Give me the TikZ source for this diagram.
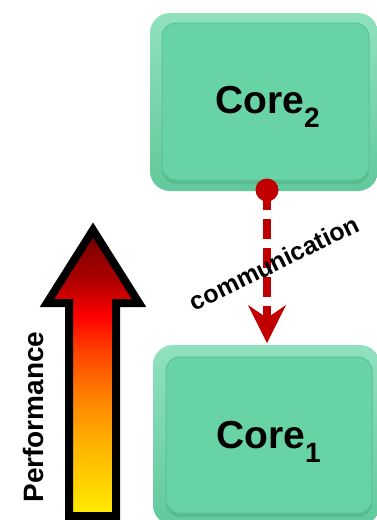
\documentclass[tikz,border=0pt]{standalone}
\usepackage{fontspec}
\setmainfont{Liberation Sans}
\usetikzlibrary{arrows.meta}
\definecolor{rim}{HTML}{74DAAD}
\definecolor{rimdark}{HTML}{62C99C}
\definecolor{face}{HTML}{68D3A5}
\definecolor{faceedge}{HTML}{5BC296}
\definecolor{shadowc}{HTML}{4FAF84}
\definecolor{commred}{HTML}{C00000}
\pgfdeclareverticalshading{perfgrad}{100bp}{%
  color(0bp)=(rgb,255:red,255;green,232;blue,0);
  color(26bp)=(rgb,255:red,255;green,232;blue,0);
  color(38bp)=(rgb,255:red,255;green,176;blue,0);
  color(46bp)=(rgb,255:red,255;green,128;blue,0);
  color(54bp)=(rgb,255:red,255;green,64;blue,0);
  color(60bp)=(rgb,255:red,255;green,0;blue,0);
  color(66bp)=(rgb,255:red,176;green,0;blue,0);
  color(75bp)=(rgb,255:red,112;green,0;blue,0);
  color(100bp)=(rgb,255:red,112;green,0;blue,0)}
\tikzset{
  rimbox/.style={rounded corners=20pt, inner sep=0pt, top color=rim!80!white, bottom color=rimdark, draw=none},
  facebox/.style={rounded corners=14pt, fill=face, draw=faceedge, line width=1pt},
  shadowbox/.style={rounded corners=14pt, fill=shadowc, opacity=0.55},
  coretext/.style={font=\bfseries\fontsize{39}{39}\selectfont, inner sep=0pt, anchor=base},
  comm/.style={draw=commred, line width=8pt, dash pattern=on 20pt off 9pt},
  commlabel/.style={font=\bfseries\fontsize{25}{25}\selectfont, inner sep=0pt, rotate=26},
  perflabel/.style={font=\bfseries\fontsize{28}{28}\selectfont, inner sep=0pt, rotate=90}
}
\newcommand{\subdigit}[1]{\raisebox{-14pt}{\fontsize{28}{28}\selectfont #1}}
\begin{document}
\begin{tikzpicture}[x=1pt,y=-1pt]
\useasboundingbox (0,0) rectangle (376,520);
% Core2
\node[rimbox, minimum width=228pt, minimum height=178pt] (core2) at (264,102) {};
\fill[shadowbox] (162,27) rectangle (369,184);
\draw[facebox] (162,23) rectangle (369,180);
\node[coretext] (core2t) at (267.5,113) {Core\subdigit{2}};
% Core1
\node[rimbox, minimum width=227pt, minimum height=180pt] (core1) at (266.5,435) {};
\fill[shadowbox] (166,361) rectangle (372,517);
\draw[facebox] (166,357) rectangle (372,513);
\node[coretext] (core1t) at (268.5,448) {Core\subdigit{1}};
% communication connector
\coordinate (cstart) at (267,190);
\coordinate (cend) at (267,343);
\draw[comm, -{Stealth[length=38pt, width=38pt, inset=13pt, line width=0pt]}] (cstart) -- (cend);
\fill[commred] (cstart) circle (11.5);
\node[commlabel] (commt) at (274,263) {communication};
% Performance arrow
\path[shading=perfgrad] (69,516) -- (69,303) -- (47,303) -- (93,230) -- (139,303) -- (116,303) -- (116,516) -- cycle;
\draw[line width=8pt, miter limit=10, line join=miter] (69,516) -- (69,303) -- (47,303) -- (93,230) -- (139,303) -- (116,303) -- (116,516) -- cycle;
\node[perflabel] (perf) at (33,417) {Performance};
\end{tikzpicture}
\end{document}
